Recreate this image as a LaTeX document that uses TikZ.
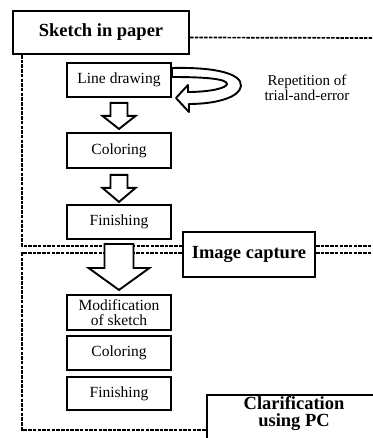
\documentclass[tikz,border=0pt]{standalone}
\usepackage{fontspec}
\setmainfont{Liberation Serif}
\begin{document}
\begin{tikzpicture}[x=1pt,y=-1pt,
  stepbox/.style={draw, line width=1.9pt, minimum width=104pt, minimum height=34pt, inner sep=0pt,
    font=\fontsize{15.5}{15}\selectfont, align=center},
  bigbox/.style={draw, line width=2.1pt, inner sep=0pt, font=\fontsize{18.5}{17}\selectfont\bfseries, align=center},
  bigtext/.style={inner sep=0pt, font=\fontsize{18.5}{17}\selectfont\bfseries, align=center},
  region/.style={line width=1.7pt, dash pattern=on 3.5pt off 1.2pt},
  harrow/.style={draw, line width=1.9pt, fill=white, line join=miter}]
\useasboundingbox (0,0) rectangle (372,438);

% region outlines
\coordinate (r1bl) at (22,246);
\coordinate (r2tl) at (22,253);
\coordinate (r2bl) at (22,430);
\coordinate (rtop) at (372,38);

% boxes
\node[bigbox, minimum width=176pt, minimum height=43pt] (sketch) at (101,32.5) {Sketch in paper};
\node[bigbox, minimum width=132pt, minimum height=45pt] (imgcap) at (249,254.5) {Image capture};
\node[draw, line width=2.1pt, minimum width=173pt, minimum height=55pt] (clarbox) at (293.5,422.5) {};

\draw[region] ([yshift=-5pt]sketch.east) -- (rtop);
\draw[region] (sketch.south -| r1bl) -- (r1bl) -- (imgcap.west |- r1bl);
\draw[region] (imgcap.east |- r1bl) -- (372,246);
\draw[region] (imgcap.west |- r2tl) -- (r2tl) -- (r2bl) -- (clarbox.west |- r2bl);
\draw[region] (imgcap.east |- r2tl) -- (372,253);

\node[bigtext] (clar) at (294,414) {Clarification\\using PC};

\node[stepbox] (line) at (119,80) {Line drawing};
\node[stepbox, minimum height=35pt] (col1) at (119,150.5) {Coloring};
\node[stepbox] (fin1) at (119,222) {Finishing};
\node[stepbox, minimum height=35pt] (mod) at (119,312.5) {Modification\\of sketch};
\node[stepbox] (col2) at (119,353) {Coloring};
\node[stepbox, minimum height=33pt] (fin2) at (119,393.5) {Finishing};

% hollow arrows
\draw[harrow, shift={(line.south)}] (-8.5,5) -- (8.5,5) -- (8.5,18) -- (16.5,18) -- (0,31) -- (-16.5,18) -- (-8.5,18) -- cycle;
\draw[harrow, shift={(col1.south)}] (-8.5,6) -- (8.5,6) -- (8.5,19) -- (16.5,19) -- (0,33) -- (-16.5,19) -- (-8.5,19) -- cycle;
\draw[harrow, shift={(fin1.south)}] (-14.5,4) -- (14.5,4) -- (14.5,28) -- (30.5,28) -- (0,50) -- (-30.5,28) -- (-14.5,28) -- cycle;

% curved repetition arrow
\draw[harrow, line join=round, shift={(line.east)}]
  (0,-12) .. controls (45,-13) and (70,-6) .. (69,6)
  .. controls (68,17) and (45,24) .. (17,24)
  -- (17,32) -- (4,18) -- (16,5) -- (16,12)
  .. controls (38,12) and (55,8) .. (55,4)
  .. controls (55,-1) and (35,-3) .. (0,-3) -- cycle;

\node[inner sep=0pt, font=\fontsize{15}{15}\selectfont, align=center] (rep) at (307,88) {Repetition of\\trial-and-error};
\end{tikzpicture}
\end{document}
